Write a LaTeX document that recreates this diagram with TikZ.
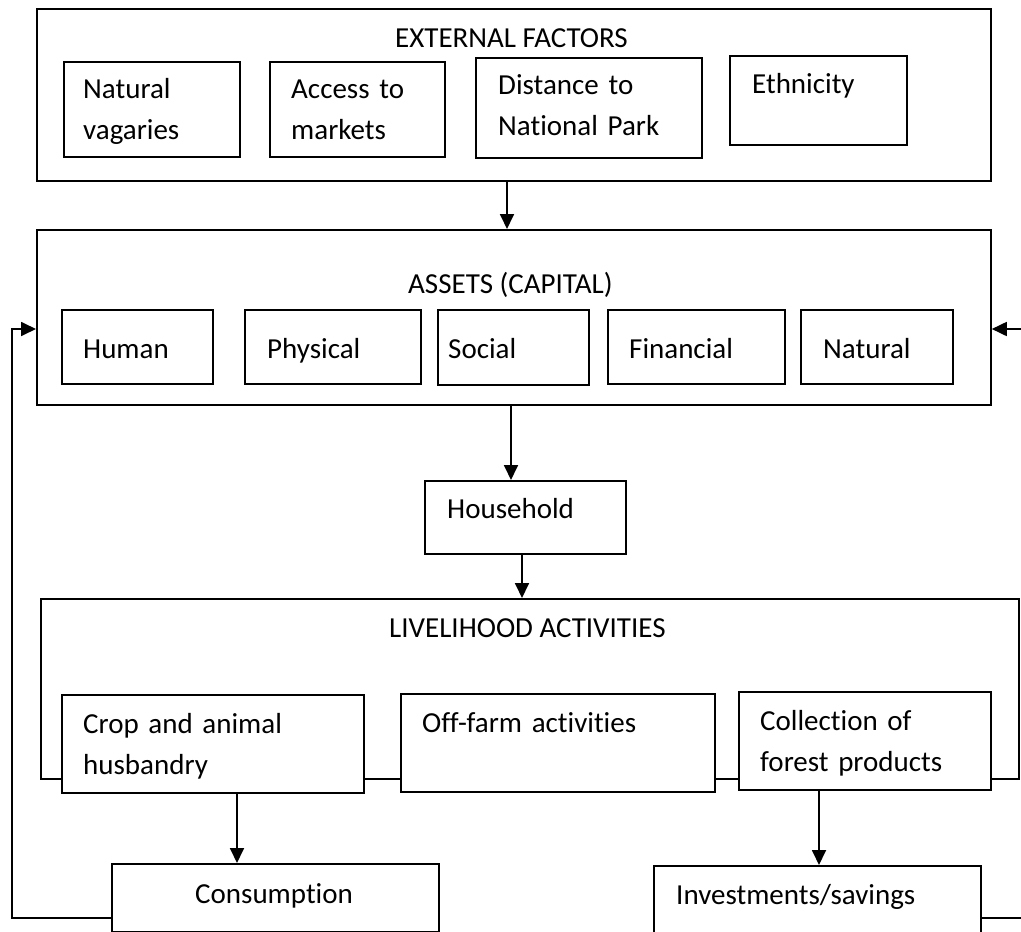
\documentclass[tikz,border=0pt]{standalone}
\usepackage{fontspec}
\setmainfont{Carlito}[Ligatures=NoCommon]
\usetikzlibrary{arrows.meta}
\begin{document}
\begin{tikzpicture}[x=1pt,y=-1pt,
  box/.style={draw=black, line width=1.8pt, fill=white, inner sep=0pt, anchor=north west},
  lbl/.style={inner sep=0pt, anchor=base west, text width=320pt, align=left,
    font={\fontsize{29}{41}\selectfont}},
  ttl/.style={inner sep=0pt, anchor=base west, font={\fontsize{29}{41}\selectfont}},
  arr/.style={line width=1.8pt, -{Triangle[length=15pt,width=14pt]}},
  link/.style={line width=1.8pt}]
\useasboundingbox (0,0) rectangle (1021,932);
\clip (0,0) rectangle (1021,932);
% External factors
\node[box, minimum width=954pt, minimum height=172pt] (ext) at (36,8) {};
\node[ttl] (extt) at (395,47) {EXTERNAL FACTORS};
\node[box, minimum width=176pt, minimum height=95pt] (nv) at (63,61) {};
\node[lbl] (nvt) at (83,98) {Natural\\vagaries};
\node[box, minimum width=175pt, minimum height=95pt] (am) at (269,61) {};
\node[lbl] (amt) at (291,98) {Access to\\markets};
\node[box, minimum width=226pt, minimum height=100pt] (dn) at (475,57) {};
\node[lbl] (dnt) at (498,94) {Distance to\\National Park};
\node[box, minimum width=177pt, minimum height=89pt] (et) at (729,55) {};
\node[lbl] (ett) at (752,93) {Ethnicity};
% Assets
\node[box, minimum width=954pt, minimum height=175pt] (as) at (36,229) {};
\node[ttl] (ast) at (408,293) {ASSETS (CAPITAL)};
\node[box, minimum width=151pt, minimum height=74pt] (hu) at (61,309) {};
\node[lbl] (hut) at (83,358) {Human};
\node[box, minimum width=176pt, minimum height=74pt] (ph) at (244,309) {};
\node[lbl] (pht) at (267,358) {Physical};
\node[box, minimum width=151pt, minimum height=75pt] (so) at (437,309) {};
\node[lbl] (sot) at (448,358) {Social};
\node[box, minimum width=177pt, minimum height=74pt] (fi) at (607,309) {};
\node[lbl] (fit) at (629,358) {Financial};
\node[box, minimum width=152pt, minimum height=74pt] (na) at (800,309) {};
\node[lbl] (nat) at (823,358) {Natural};
% Household
\node[box, minimum width=201pt, minimum height=73pt] (hh) at (424,480) {};
\node[lbl] (hht) at (447,518) {Household};
% Livelihood
\node[box, minimum width=978pt, minimum height=180pt] (lv) at (40,598) {};
\node[ttl] (lvt) at (389,637) {LIVELIHOOD ACTIVITIES};
\node[box, minimum width=302pt, minimum height=98pt] (cr) at (61,694) {};
\node[lbl] (crt) at (83,733) {Crop and animal\\husbandry};
\node[box, minimum width=314pt, minimum height=98pt] (of) at (400,693) {};
\node[lbl] (oft) at (422,732) {Off-farm activities};
\node[box, minimum width=252pt, minimum height=98pt] (co) at (738,691) {};
\node[lbl] (cot) at (760,730) {Collection of\\forest products};
% Outcomes
\node[box, minimum width=327pt, minimum height=68pt] (cs) at (111,863) {};
\node[lbl] (cst) at (195,903) {Consumption};
\node[box, minimum width=327pt, minimum height=100pt] (iv) at (653,865) {};
\node[lbl] (ivt) at (676,904) {Investments/savings};
% Connectors
\coordinate (a1) at (507,180);
\draw[arr] (a1) -- (a1 |- as.north);
\coordinate (a2) at (511,404);
\draw[arr] (a2) -- (a2 |- hh.north);
\coordinate (a3) at (522,553);
\draw[arr] (a3) -- (a3 |- lv.north);
\coordinate (a4) at (237,792);
\draw[arr] (a4) -- (a4 |- cs.north);
\coordinate (a5) at (819,789);
\draw[arr] (a5) -- (a5 |- iv.north);
% Feedback loops
\coordinate (lfb) at (12,918);
\coordinate (ltop) at (12,329);
\draw[arr] (cs.west |- lfb) -- (lfb) -- (ltop) -- (as.west |- ltop);
\coordinate (rfb) at (1035,918);
\coordinate (rtop) at (1035,329);
\draw[arr] (iv.east |- rfb) -- (rfb) -- (rtop) -- (as.east |- rtop);
\end{tikzpicture}
\end{document}
